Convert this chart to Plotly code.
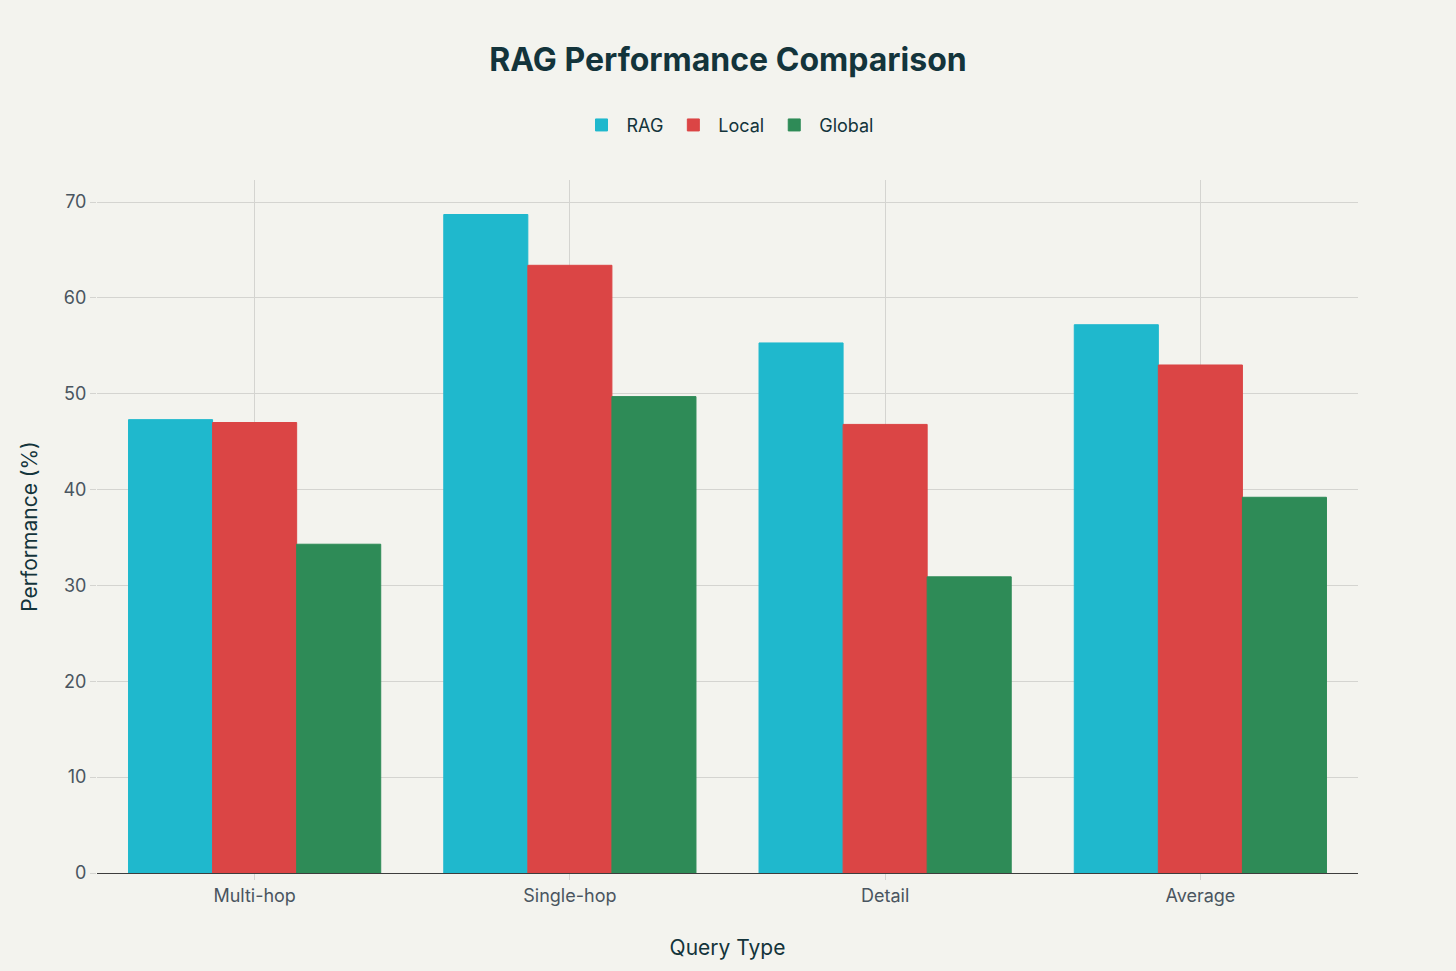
import plotly.graph_objects as go

categories = ["Multi-hop", "Single-hop", "Detail", "Average"]
rag_values = [47.3, 68.7, 55.3, 57.2]
local_values = [47.0, 63.4, 46.8, 53.0]
global_values = [34.3, 49.7, 30.9, 39.2]

series = [
    ("RAG", rag_values, "#1FB8CD"),
    ("Local", local_values, "#DB4545"),
    ("Global", global_values, "#2E8B57"),
]

fig = go.Figure()
for name, vals, color in series:
    fig.add_trace(go.Bar(
        name=name, x=categories, y=vals,
        marker=dict(color=color, line=dict(color=color, width=1)),
        cliponaxis=False,
    ))

bg = "#F3F3EE"
fig.update_layout(
    width=1456, height=971,
    paper_bgcolor=bg, plot_bgcolor=bg,
    font=dict(family="Inter, Liberation Sans, sans-serif", size=17, color="#13343B"),
    title=dict(text="<b>RAG Performance Comparison</b>", x=0.5, xanchor="center",
               y=0.938, yanchor="middle", font=dict(size=32, color="#13343B")),
    legend=dict(orientation="h", x=0.5, xanchor="center", y=1.079, yanchor="middle",
                font=dict(size=18), bgcolor="rgba(0,0,0,0)", itemwidth=40),
    barmode="group", bargap=0.2, bargroupgap=0,
    margin=dict(l=97, r=98, t=180, b=98),
    xaxis=dict(
        title=dict(text="Query Type", font=dict(size=21), standoff=35),
        showgrid=True, gridcolor="#D4D4D0", gridwidth=1,
        ticks="outside", ticklen=6, tickcolor="#D4D4D0",
        tickfont=dict(size=18, color="#4A5560"),
        showline=True, linecolor="#3D3D3D", linewidth=1,
    ),
    yaxis=dict(
        title=dict(text="Performance (%)", font=dict(size=21), standoff=20),
        showgrid=True, gridcolor="#D4D4D0", gridwidth=1,
        ticks="outside", ticklen=6, tickcolor="#D4D4D0",
        tickfont=dict(size=18, color="#4A5560"),
        zeroline=True, zerolinecolor="#3D3D3D", zerolinewidth=1,
        dtick=10, range=[0, 72.3],
    ),
)

fig.write_html(
    "out.html",
    config={"displayModeBar": False},
    post_script="document.body.style.margin='0';document.body.style.background='#F3F3EE';",
)
